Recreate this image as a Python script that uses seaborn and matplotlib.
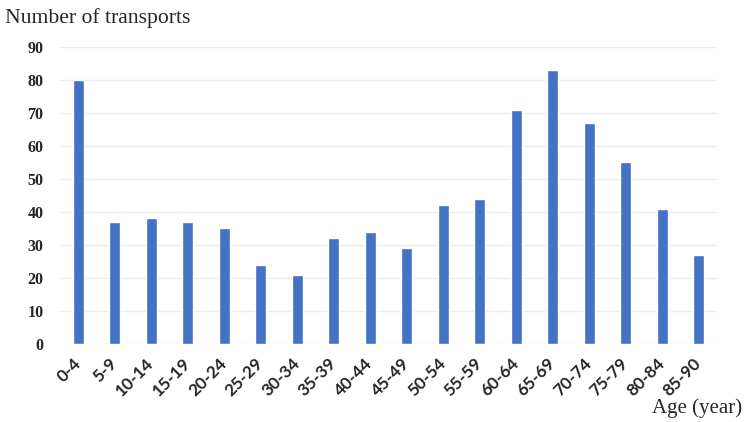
import pandas as pd
import seaborn as sns
import matplotlib.pyplot as plt
import matplotlib.transforms as mtransforms

# age groups and number of transports
age_groups = ['0-4', '5-9', '10-14', '15-19', '20-24', '25-29', '30-34', '35-39', '40-44',
              '45-49', '50-54', '55-59', '60-64', '65-69', '70-74', '75-79', '80-84', '85-90']
transports = [80, 37, 38, 37, 35, 24, 21, 32, 34, 29, 42, 44, 71, 83, 67, 55, 41, 27]
y_ticks = list(range(0, 100, 10))

df = pd.DataFrame({'Age': age_groups, 'Count': transports})

sns.set_theme(style='white')
plt.rcParams['font.family'] = ['Liberation Serif', 'DejaVu Serif']

fig = plt.figure(figsize=(7.5, 4.22), dpi=100)
ax = fig.add_axes([0.08, 0.185, 0.876, 0.704])
sns.barplot(data=df, x='Age', y='Count', color='#4472C4', width=0.31, saturation=1, ax=ax)

ax.set_ylim(0, 90)
ax.set_xlim(-0.5, len(age_groups) - 0.5)
ax.set_yticks(y_ticks)
ax.yaxis.grid(True, color='#ececec', linewidth=1)
ax.set_axisbelow(True)
sns.despine(ax=ax, left=True, bottom=True)
ax.tick_params(axis='both', length=0)
ax.tick_params(axis='y', pad=12, labelsize=11.5)
for lab in ax.get_yticklabels():
    lab.set_fontweight('bold')
# shift x labels a bit right/down like the original
offset = mtransforms.ScaledTranslation(4 / 72, -3 / 72, fig.dpi_scale_trans)
for lab in ax.get_xticklabels():
    lab.set_family(['Lato', 'DejaVu Sans'])
    lab.set_fontweight('bold')
    lab.set_fontsize(12.3)
    lab.set_rotation(45)
    lab.set_ha('right')
    lab.set_va('center')
    lab.set_rotation_mode('anchor')
    lab.set_transform(lab.get_transform() + offset)
ax.tick_params(axis='x', pad=12)
ax.set_xlabel('')
ax.set_ylabel('')

fig.text(0.007, 0.957, 'Number of transports', fontsize=15.6, ha='left', va='center')
fig.text(0.99, 0.033, 'Age (year)', fontsize=15, ha='right', va='center')

plt.savefig('out.png', dpi=100)
